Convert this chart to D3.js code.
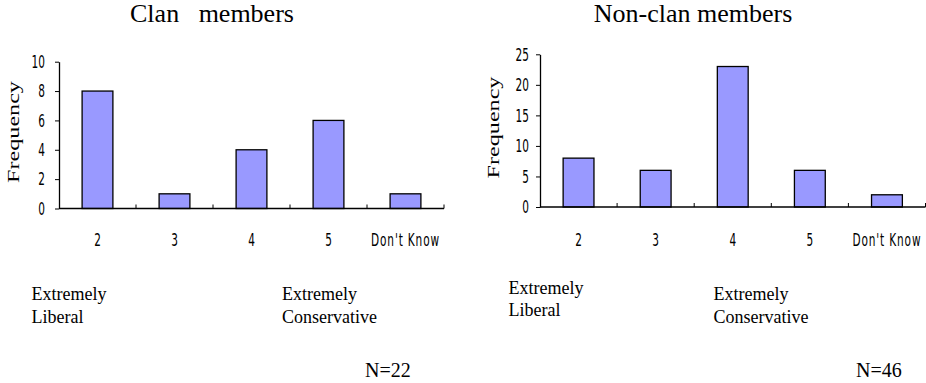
<!DOCTYPE html>
<html>
<head>
<meta charset="utf-8">
<script src="https://cdn.jsdelivr.net/npm/d3@7"></script>
<style>
  html, body { margin: 0; padding: 0; background: #fff; }
  svg { display: block; }
  .tick-lbl { font-family: "DejaVu Sans", sans-serif; font-size: 17px; fill: #000; }
  .serif { font-family: "Liberation Serif", "Times New Roman", serif; fill: #000; }
</style>
</head>
<body>
<svg id="chart" width="926" height="383"></svg>
<script>
// ---- data ----
const categories = ["2", "3", "4", "5", "Don't Know"];
const clanValues = [8, 1, 4, 6, 1];
const nonClanValues = [8, 6, 23, 6, 2];
const clanTicks = [0, 2, 4, 6, 8, 10];
const nonClanTicks = [0, 5, 10, 15, 20, 25];
const titles = ["Clan   members", "Non-clan members"];
const yTitle = "Frequency";
const endLabelLeft = ["Extremely", "Liberal"];
const endLabelRight = ["Extremely", "Conservative"];
const sampleSizes = ["N=22", "N=46"];

const svg = d3.select("#chart");
const NARROW = 0.62;

function narrowText(g, x, y, txt, anchor, spacing) {
  return g.append("text").attr("class", "tick-lbl")
    .attr("transform", `translate(${x},${y}) scale(${NARROW},1)`)
    .attr("text-anchor", anchor)
    .attr("letter-spacing", spacing || 0)
    .text(txt);
}

function drawPanel(opt) {
  const g = svg.append("g");
  const x = d3.scaleBand().domain(categories).range([opt.x0, opt.x1]).paddingInner(0.6).paddingOuter(0.3);
  const y = d3.scaleLinear().domain([0, d3.max(opt.ticks)]).range([opt.yb, opt.yt]);

  // title
  g.append("text").attr("class", "serif")
    .attr("x", opt.titleX).attr("y", 22)
    .attr("text-anchor", "middle").attr("font-size", 26)
    .attr("xml:space", "preserve").style("white-space", "pre")
    .text(opt.title);

  // y axis title (stretched)
  g.append("text").attr("class", "serif")
    .attr("transform", `translate(${opt.yTitleX},${opt.yTitleY}) rotate(-90) scale(1.42,1)`)
    .attr("text-anchor", "middle").attr("font-size", 17)
    .text(yTitle);

  // bars
  g.selectAll("rect.bar").data(opt.values).join("rect")
    .attr("class", "bar")
    .attr("x", (d, i) => x(categories[i]))
    .attr("width", x.bandwidth())
    .attr("y", d => y(d))
    .attr("height", d => y(0) - y(d))
    .attr("fill", "#9999FF").attr("stroke", "#000").attr("stroke-width", 1.3);

  // y axis
  const yAxis = d3.axisLeft(y).tickValues(opt.ticks).tickSize(4).tickFormat("").tickSizeOuter(0);
  const ya = g.append("g").attr("transform", `translate(${opt.x0},0)`).call(yAxis);
  ya.select(".domain").attr("stroke", "#000").attr("stroke-width", 1.3);
  ya.selectAll(".tick line").attr("stroke", "#000");
  opt.ticks.forEach(t => narrowText(g, opt.x0 - 4 - opt.yPad, y(t) + 6.2, String(t), "end"));

  // x axis line
  g.append("line").attr("x1", opt.x0).attr("x2", opt.x1).attr("y1", y(0)).attr("y2", y(0))
    .attr("stroke", "#000").attr("stroke-width", 1.6);
  // x ticks at band boundaries (upward)
  const step = x.step();
  g.selectAll("line.xt").data(categories).join("line")
    .attr("class", "xt")
    .attr("x1", c => x(c) + x.bandwidth() / 2 + step / 2)
    .attr("x2", c => x(c) + x.bandwidth() / 2 + step / 2)
    .attr("y1", y(0)).attr("y2", y(0) - 4)
    .attr("stroke", "#000").attr("stroke-width", 1);
  // x labels
  categories.forEach(c => narrowText(g, x(c) + x.bandwidth() / 2, y(0) + opt.xLabelDy, c, "middle", c.length > 2 ? 1.4 : 0));

  // end labels
  [[opt.libX, opt.libY, endLabelLeft], [opt.conX, opt.conY, endLabelRight]].forEach(([lx, ly, lines]) => {
    lines.forEach((t, i) => {
      g.append("text").attr("class", "serif").attr("font-size", 18)
        .attr("x", lx).attr("y", ly + i * 22.5).text(t);
    });
  });

  // N
  g.append("text").attr("class", "serif").attr("font-size", 20)
    .attr("x", opt.nX).attr("y", 377).text(opt.n);
}

drawPanel({
  title: titles[0], titleX: 212, values: clanValues, ticks: clanTicks,
  x0: 59, x1: 444, yb: 208.5, yt: 61.7, yPad: 10,
  yTitleX: 18.5, yTitleY: 132, xLabelDy: 37,
  libX: 31.5, libY: 300, conX: 282, conY: 300,
  nX: 365, n: sampleSizes[0]
});
drawPanel({
  title: titles[1], titleX: 693, values: nonClanValues, ticks: nonClanTicks,
  x0: 540, x1: 925.5, yb: 207, yt: 54.3, yPad: 7,
  yTitleX: 498.5, yTitleY: 127.5, xLabelDy: 38.5,
  libX: 508.5, libY: 293.5, conX: 713.5, conY: 300,
  nX: 856, n: sampleSizes[1]
});
</script>
</body>
</html>
